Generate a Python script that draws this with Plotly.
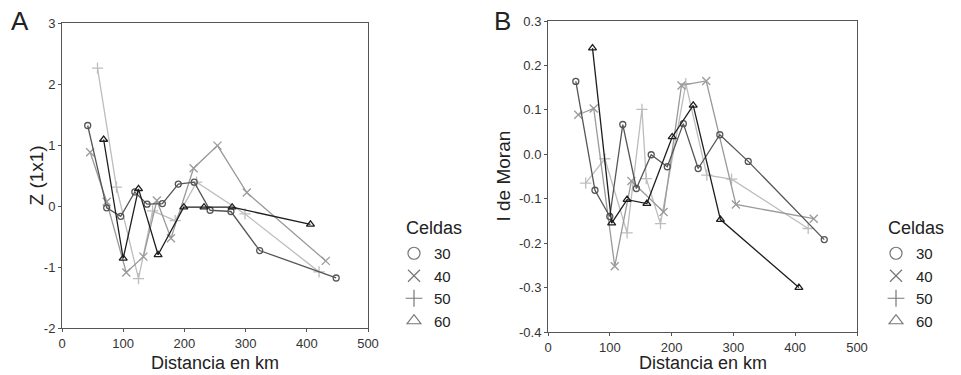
import plotly.graph_objects as go

# ---------------- data ----------------
series_names = ["30", "40", "50", "60"]

# Panel A: Z (1x1) vs distance
a30_x = [42, 73, 96, 119, 139, 164, 190, 216, 242, 276, 323, 448]
a30_y = [1.32, -0.03, -0.17, 0.23, 0.03, 0.04, 0.36, 0.39, -0.07, -0.09, -0.73, -1.18]
a40_x = [46, 73, 105, 133, 155, 178, 215, 254, 302, 431]
a40_y = [0.88, 0.07, -1.09, -0.83, 0.09, -0.53, 0.62, 0.99, 0.22, -0.90]
a50_x = [58, 89, 125, 148, 185, 220, 299, 420]
a50_y = [2.26, 0.31, -1.19, -0.08, -0.24, 0.39, -0.13, -1.08]
a60_x = [68, 100, 125, 157, 199, 232, 278, 406]
a60_y = [1.09, -0.86, 0.28, -0.80, -0.02, -0.02, -0.02, -0.30]

# Panel B: I de Moran vs distance
b30_x = [45, 76, 100, 121, 143, 167, 193, 219, 243, 278, 324, 447]
b30_y = [0.164, -0.081, -0.140, 0.067, -0.077, -0.001, -0.028, 0.069, -0.032, 0.044, -0.016, -0.192]
b40_x = [49, 74, 108, 135, 187, 216, 256, 304, 430]
b40_y = [0.089, 0.103, -0.252, -0.060, -0.130, 0.155, 0.165, -0.113, -0.145]
b50_x = [61, 92, 128, 152, 159, 182, 223, 257, 297, 421]
b50_y = [-0.065, -0.010, -0.177, 0.101, -0.055, -0.156, 0.159, -0.047, -0.056, -0.167]
b60_x = [72, 103, 128, 160, 201, 235, 279, 406]
b60_y = [0.239, -0.155, -0.102, -0.111, 0.039, 0.110, -0.147, -0.300]

x_ticks = [0, 100, 200, 300, 400, 500]
x_ticklabels = ["0", "100", "200", "300", "400", "500"]
a_yticks = [-2, -1, 0, 1, 2, 3]
a_yticklabels = ["-2", "-1", "0", "1", "2", "3"]
b_yticks = [-0.4, -0.3, -0.2, -0.1, 0.0, 0.1, 0.2, 0.3]
b_yticklabels = ["-0.4", "-0.3", "-0.2", "-0.1", "0.0", "0.1", "0.2", "0.3"]

x_title = "Distancia en km"
a_ytitle = "Z (1x1)"
b_ytitle = "I de Moran"
legend_title = "Celdas"

# ---------------- styles ----------------
W, H = 961, 375
colors = {"30": "#555555", "40": "#9a9a9a", "50": "#bdbdbd", "60": "#1e1e1e"}
symbols = {"30": "circle-open", "40": "x-thin-open", "50": "cross-thin-open", "60": "triangle-up-open"}
msize = {"30": 6, "40": 8, "50": 8, "60": 7}
FONT = "Arial, Liberation Sans, sans-serif"

fig = go.Figure()

panelA = {"30": (a30_x, a30_y), "40": (a40_x, a40_y), "50": (a50_x, a50_y), "60": (a60_x, a60_y)}
panelB = {"30": (b30_x, b30_y), "40": (b40_x, b40_y), "50": (b50_x, b50_y), "60": (b60_x, b60_y)}

draw_order = ["50", "40", "30", "60"]
for panel, xa, ya in ((panelA, "x", "y"), (panelB, "x2", "y2")):
    for name in draw_order:
        xs, ys = panel[name]
        fig.add_trace(go.Scatter(
            x=xs, y=ys, mode="lines+markers", xaxis=xa, yaxis=ya, showlegend=False,
            line=dict(color=colors[name], width=1.3),
            marker=dict(symbol=symbols[name], size=msize[name], color=colors[name],
                        line=dict(width=1.3, color=colors[name]))))

# legend-only traces
for lg, ax in (("legend", ("x", "y")), ("legend2", ("x2", "y2"))):
    for name in series_names:
        fig.add_trace(go.Scatter(
            x=[None], y=[None], mode="markers", name=name, legend=lg,
            xaxis=ax[0], yaxis=ax[1],
            marker=dict(symbol=symbols[name], size=12, color="#777777",
                        line=dict(width=1.2, color="#777777"))))

axis_common = dict(showgrid=False, zeroline=False, showline=True, mirror=True, automargin=False,
                   linecolor="#555555", linewidth=1, ticks="outside", ticklen=3,
                   tickcolor="#555555", tickfont=dict(size=13, color="#333333", family=FONT))

legend_common = dict(font=dict(size=15, color="#222222", family=FONT),
                     bgcolor="rgba(0,0,0,0)", itemwidth=30, tracegroupgap=0,
                     yanchor="top", xanchor="left")

A_dom_x = [62 / W, 368 / W]
A_dom_y = [1 - 328 / H, 1 - 23 / H]
B_dom_x = [548 / W, 857 / W]
B_dom_y = [1 - 332 / H, 1 - 21 / H]

def ann(text, x, y, size, angle=0, xanchor="center", yanchor="middle"):
    return dict(text=text, x=x, y=y, xref="paper", yref="paper", xanchor=xanchor, yanchor=yanchor,
                textangle=angle, showarrow=False, font=dict(size=size, family=FONT, color="#222222"))

fig.update_layout(
    width=W, height=H,
    margin=dict(l=0, r=0, t=0, b=0, autoexpand=False),
    plot_bgcolor="white", paper_bgcolor="white",
    font=dict(family=FONT, color="#222222"),
    xaxis=dict(domain=A_dom_x, range=[0, 500], anchor="y",
               tickvals=x_ticks, ticktext=x_ticklabels, **axis_common),
    yaxis=dict(domain=A_dom_y, range=[-2, 3], anchor="x",
               tickvals=a_yticks, ticktext=a_yticklabels, **axis_common),
    xaxis2=dict(domain=B_dom_x, range=[0, 500], anchor="y2",
                tickvals=x_ticks, ticktext=x_ticklabels, **axis_common),
    yaxis2=dict(domain=B_dom_y, range=[-0.4, 0.3], anchor="x2",
                tickvals=b_yticks, ticktext=b_yticklabels, **axis_common),
    legend=dict(x=394 / W, y=1 - 237 / H, **legend_common),
    legend2=dict(x=876 / W, y=1 - 237 / H, **legend_common),
    annotations=[
        ann("A", 9 / W, 1 - 4 / H, 26, xanchor="left", yanchor="top"),
        ann("B", 492 / W, 1 - 4 / H, 26, xanchor="left", yanchor="top"),
        ann(x_title, sum(A_dom_x) / 2, 1 - 363 / H, 18),
        ann(x_title, sum(B_dom_x) / 2, 1 - 363 / H, 18),
        ann(a_ytitle, 36 / W, sum(A_dom_y) / 2, 19, angle=-90),
        ann(b_ytitle, 503 / W, sum(B_dom_y) / 2, 19, angle=-90),
        ann(legend_title, 404 / W, 1 - 228 / H, 18, xanchor="left"),
        ann(legend_title, 886 / W, 1 - 228 / H, 18, xanchor="left"),
    ],
)

fig.write_html("out.html", config={"displayModeBar": False},
               post_script="document.body.style.margin='0px';")
